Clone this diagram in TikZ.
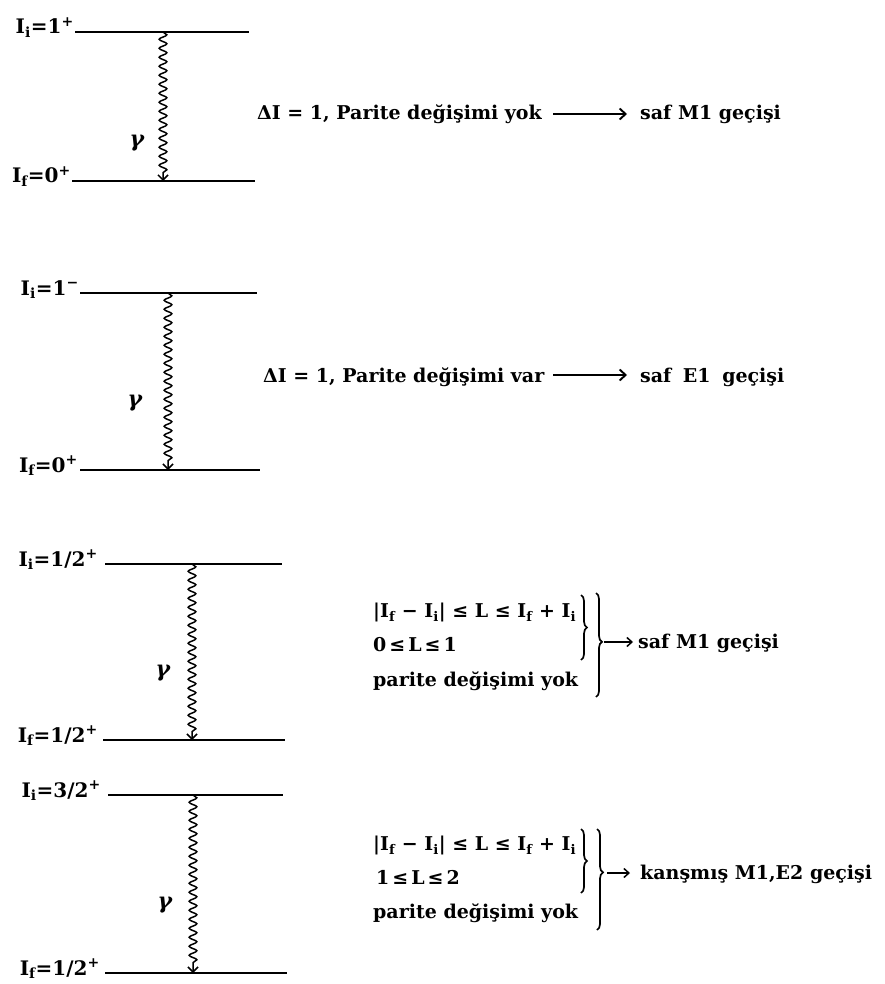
\documentclass[tikz,border=0pt]{standalone}
\usepackage{fontspec}
\setmainfont{DejaVu Serif}
\usetikzlibrary{decorations.pathmorphing,decorations.pathreplacing,arrows.meta}
\begin{document}
\begin{tikzpicture}[x=1pt,y=-1pt,
 level/.style={line width=1.9pt},
 wavy/.style={line width=1.5pt, decorate, decoration={snake,amplitude=3.8pt,segment length=9pt,post length=8pt}, -{Straight Barb[length=5pt,width=10pt]}},
 lbl/.style={anchor=base east, inner sep=0pt, font=\bfseries\fontsize{20}{24}\selectfont},
 txt/.style={anchor=base west, inner sep=0pt, font=\bfseries\fontsize{19}{22}\selectfont},
 gam/.style={inner sep=0pt, font=\bfseries\itshape\fontsize{22}{24}\selectfont},
 longarrow/.style={line width=1.9pt,-{Straight Barb[length=6pt,width=11pt]}},
 shortarrow/.style={line width=1.5pt,-{Straight Barb[length=5pt,width=9pt]}},
 brc/.style={line width=1.7pt, decorate, decoration={brace,amplitude=6pt,aspect=#1}},
 brc/.default=0.5
]
\useasboundingbox (0,0) rectangle (884,984);

% ---------- diagram 1 ----------
\coordinate (a1l) at (75,32);  \coordinate (a1r) at (249,32);
\coordinate (b1l) at (72,181); \coordinate (b1r) at (255,181);
\draw[level] (a1l) -- (a1r);
\draw[level] (b1l) -- (b1r);
\node[lbl] (la1) at (74,34) {I\textsubscript{i}=1\textsuperscript{+}};
\node[lbl] (lb1) at (71,183) {I\textsubscript{f}=0\textsuperscript{+}};
\coordinate (w1t) at (163,32); \coordinate (w1b) at (163,181);
\draw[wavy] (w1t) -- (w1b);
\node[gam] (g1) at (137,143) {γ};
\node[txt] (t1) at (257,120) {ΔI = 1, Parite değişimi yok};
\coordinate (ar1s) at (553,114); \coordinate (ar1e) at (627,114);
\draw[longarrow] (ar1s) -- (ar1e);
\node[txt] (r1) at (640,120) {saf M1 geçişi};

% ---------- diagram 2 ----------
\coordinate (a2l) at (80,293);  \coordinate (a2r) at (257,293);
\coordinate (b2l) at (80,470);  \coordinate (b2r) at (260,470);
\draw[level] (a2l) -- (a2r);
\draw[level] (b2l) -- (b2r);
\node[lbl] (la2) at (79,295) {I\textsubscript{i}=1\textsuperscript{−}};
\node[lbl] (lb2) at (78,472) {I\textsubscript{f}=0\textsuperscript{+}};
\coordinate (w2t) at (168,293); \coordinate (w2b) at (168,470);
\draw[wavy] (w2t) -- (w2b);
\node[gam] (g2) at (135,403) {γ};
\node[txt] (t2) at (263,382) {ΔI = 1, Parite değişimi var};
\coordinate (ar2s) at (553,375); \coordinate (ar2e) at (627,375);
\draw[longarrow] (ar2s) -- (ar2e);
\node[txt] (r2) at (640,382) {saf\hspace{5pt} E1\hspace{5pt} geçişi};

% ---------- diagram 3 ----------
\coordinate (a3l) at (105,564);  \coordinate (a3r) at (282,564);
\coordinate (b3l) at (103,740);  \coordinate (b3r) at (285,740);
\draw[level] (a3l) -- (a3r);
\draw[level] (b3l) -- (b3r);
\node[lbl] (la3) at (98,566) {I\textsubscript{i}=1/2\textsuperscript{+}};
\node[lbl] (lb3) at (98,742) {I\textsubscript{f}=1/2\textsuperscript{+}};
\coordinate (w3t) at (192,564); \coordinate (w3b) at (192,740);
\draw[wavy] (w3t) -- (w3b);
\node[gam] (g3) at (163,673) {γ};
\node[txt] (c31) at (373,617) {|I\textsubscript{f} − I\textsubscript{i}| ≤ L ≤ I\textsubscript{f} + I\textsubscript{i}};
\node[txt] (c32) at (373,651) {0\hspace{3pt}≤\hspace{3pt}L\hspace{3pt}≤\hspace{3pt}1};
\node[txt] (c33) at (373,686) {parite değişimi yok};
\coordinate (br31t) at (581,595); \coordinate (br31b) at (581,660);
\coordinate (br32t) at (596,593); \coordinate (br32b) at (596,697);
\draw[brc] (br31t) -- (br31b);
\draw[brc=0.47] (br32t) -- (br32b);
\coordinate (ar3s) at (604,642); \coordinate (ar3e) at (633,642);
\draw[shortarrow] (ar3s) -- (ar3e);
\node[txt] (r3) at (638,648) {saf M1 geçişi};

% ---------- diagram 4 ----------
\coordinate (a4l) at (108,795);  \coordinate (a4r) at (283,795);
\coordinate (b4l) at (105,973);  \coordinate (b4r) at (287,973);
\draw[level] (a4l) -- (a4r);
\draw[level] (b4l) -- (b4r);
\node[lbl] (la4) at (101,797) {I\textsubscript{i}=3/2\textsuperscript{+}};
\node[lbl] (lb4) at (100,975) {I\textsubscript{f}=1/2\textsuperscript{+}};
\coordinate (w4t) at (193,795); \coordinate (w4b) at (193,973);
\draw[wavy] (w4t) -- (w4b);
\node[gam] (g4) at (165,905) {γ};
\node[txt] (c41) at (373,850) {|I\textsubscript{f} − I\textsubscript{i}| ≤ L ≤ I\textsubscript{f} + I\textsubscript{i}};
\node[txt] (c42) at (376,884) {1\hspace{3pt}≤\hspace{3pt}L\hspace{3pt}≤\hspace{3pt}2};
\node[txt] (c43) at (373,918) {parite değişimi yok};
\coordinate (br41t) at (581,829); \coordinate (br41b) at (581,893);
\coordinate (br42t) at (597,829); \coordinate (br42b) at (597,930);
\draw[brc] (br41t) -- (br41b);
\draw[brc=0.43] (br42t) -- (br42b);
\coordinate (ar4s) at (607,873); \coordinate (ar4e) at (630,873);
\draw[shortarrow] (ar4s) -- (ar4e);
\node[txt] (r4) at (640,879) {kanşmış M1,E2 geçişi};
\end{tikzpicture}
\end{document}
